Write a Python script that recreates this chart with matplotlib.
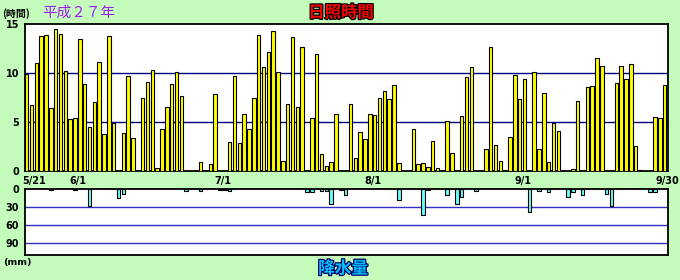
import matplotlib
matplotlib.use('Agg')
import matplotlib.pyplot as plt
import matplotlib.patheffects as pe
import numpy as np
import pandas as pd

# ---- data ----
start_date = '2015-05-21'
end_date = '2015-09-30'
year_label = '平成２７年'
title_top = '日照時間'
title_bottom = '降水量'
tick_dates = ['2015-05-21', '2015-06-01', '2015-07-01', '2015-08-01', '2015-09-01', '2015-09-30']
tick_labels = ['5/21', '6/1', '7/1', '8/1', '9/1', '9/30']

# daily sunshine hours (5/21 .. 9/30)
sunshine = [
    9.9, 6.7, 11.0, 13.8, 13.9, 6.4, 14.5, 14.0, 10.2, 5.3,
    5.4, 13.5, 8.9, 4.5, 7.0, 11.1, 3.8, 13.8, 4.9, 0.0,
    3.9, 9.7, 3.4, 0.0, 7.4, 9.1, 10.3, 0.3, 4.3, 6.5,
    8.9, 10.1, 7.7, 0.0, 0.0, 0.0, 0.9, 0.0, 0.7, 7.9,
    0.0, 0.0, 3.0, 9.7, 2.9, 5.8, 4.3, 7.5, 13.9, 10.6,
    12.1, 14.3, 10.1, 1.0, 6.8, 13.7, 6.5, 12.7, 0.0, 5.4,
    11.9, 1.7, 0.5, 0.9, 5.8, 0.0, 0.0, 6.8, 1.3, 4.0,
    3.3, 5.8, 5.7, 7.5, 8.2, 7.3, 8.8, 0.8, 0.0, 0.0,
    4.3, 0.7, 0.8, 0.4, 3.1, 0.3, 0.1, 5.1, 1.8, 0.0,
    5.6, 9.6, 10.6, 0.0, 0.0, 2.2, 12.7, 2.7, 1.0, 0.0,
    3.5, 9.8, 7.3, 9.4, 0.0, 10.1, 2.2, 8.0, 0.9, 4.9,
    4.1, 0.0, 0.0, 0.2, 7.1, 0.0, 8.6, 8.7, 11.5, 10.7,
    0.0, 0.0, 9.0, 10.7, 9.4, 10.9, 2.6, 0.1, 0.0, 0.0,
    5.5, 5.4, 8.8,
]

# daily precipitation (mm)
rain = [
    0, 0, 0, 0, 0, 1, 0, 0, 0, 0,
    1, 0, 0, 27, 0, 0, 0, 0, 0, 15,
    8, 0, 0, 0, 0, 0, 0, 0, 0, 0,
    0, 0, 0, 3, 0, 0, 3, 0, 0, 0,
    1, 1, 3, 0, 0, 0, 0, 0, 0, 0,
    0, 0, 0, 0, 0, 0, 0, 0, 5, 4.5,
    0, 3, 3, 25, 0, 1, 10, 0, 0, 0,
    0, 0, 0, 0, 0, 0, 0, 18, 0, 0,
    0, 0, 42, 1.5, 0, 0, 0, 10, 0, 25,
    13, 0, 0, 3, 0, 0, 0, 0, 0, 0,
    0, 0, 0, 0, 38, 0, 3.5, 0, 5, 0,
    0, 0, 13, 5, 0, 10, 0, 0, 0, 0,
    8, 27, 0, 0, 0, 0, 0, 0, 0, 5,
    5, 0, 0,
]

# ---- derived ----
dates = pd.date_range(start_date, end_date, freq='D')
n_days = len(dates)
x = np.arange(n_days)
sun = np.array(sunshine, dtype=float)
rn = np.array(rain, dtype=float)
tick_pos = [(pd.Timestamp(d) - pd.Timestamp(start_date)).days for d in tick_dates]
tick_pos[-1] = n_days  # last label sits at end of period

BG = '#C4FCBC'
W, H = 680, 280
fig = plt.figure(figsize=(W / 100, H / 100), dpi=100, facecolor=BG)
cjk = ['Noto Sans CJK JP', 'DejaVu Sans']


def frac(l, t, r, b):
    return [l / W, 1 - b / H, (r - l) / W, (b - t) / H]


ax1 = fig.add_axes(frac(25, 24, 667.7, 171))
ax2 = fig.add_axes(frac(25, 189.3, 667.7, 255.3))

bw = 0.72
m = sun > 0
ax1.bar(x[m], sun[m], width=bw, align='edge', color='#FFFF00',
        edgecolor='black', linewidth=0.8, zorder=3)
ax1.set_xlim(0, n_days)
ax1.set_ylim(0, 15)
ax1.set_yticks([0, 5, 10, 15])
for v in [5, 10]:
    ax1.axhline(v, color='#000080', linewidth=1.0, zorder=1)
ax1.set_xticks(tick_pos[1:])
ax1.set_xticklabels(tick_labels[1:])

m2 = rn > 0
ax2.bar(x[m2], rn[m2], width=bw, align='edge', color='#66FFFF',
        edgecolor='black', linewidth=0.8, zorder=3)
ax2.set_xlim(0, n_days)
ax2.set_ylim(110, 0)
ax2.set_yticks([0, 30, 60, 90])
for v in [30, 60, 90]:
    ax2.axhline(v, color='#3030C0', linewidth=1.0, zorder=1)
ax2.set_xticks([])

for ax in (ax1, ax2):
    ax.set_facecolor('white')
    for s in ax.spines.values():
        s.set_linewidth(1.3)
        s.set_color('black')
    ax.tick_params(axis='both', length=0, labelsize=7.0, pad=4.2)
    for lab in ax.get_yticklabels() + ax.get_xticklabels():
        lab.set_fontweight('bold')

ax1.tick_params(axis='x', pad=3.3)

# first date label, nudged right so it clears the y tick labels
ax1.annotate(tick_labels[0], xy=(tick_pos[0], 0), xycoords=('data', 'axes fraction'),
             xytext=(-3, -4.6), textcoords='offset pixels', ha='left', va='top',
             fontsize=7.0, fontweight='bold', color='black', annotation_clip=False)

# texts
fig.text(2 / W, 1 - 14 / H, '(時間)', family=cjk, fontsize=7.2,
         fontweight='bold', ha='left', va='center', color='black')
fig.text(42 / W, 1 - 13 / H, year_label, family=cjk, fontsize=10.5,
         ha='left', va='center', color='#A020F0')
fig.text(341 / W, 1 - 12.5 / H, title_top, family=cjk, fontsize=11.8,
         fontweight='bold', ha='center', va='center', color='#FF0000',
         path_effects=[pe.withStroke(linewidth=1.8, foreground='black')])
fig.text(3 / W, 1 - 263 / H, '(mm)', fontsize=6.8, fontweight='bold',
         ha='left', va='center', color='black')
fig.text(343 / W, 1 - 268.5 / H, title_bottom, family=cjk, fontsize=12,
         fontweight='bold', ha='center', va='center', color='#00BFFF',
         path_effects=[pe.withStroke(linewidth=1.8, foreground='#000060')])

fig.savefig('out.png', dpi=100, facecolor=BG)
